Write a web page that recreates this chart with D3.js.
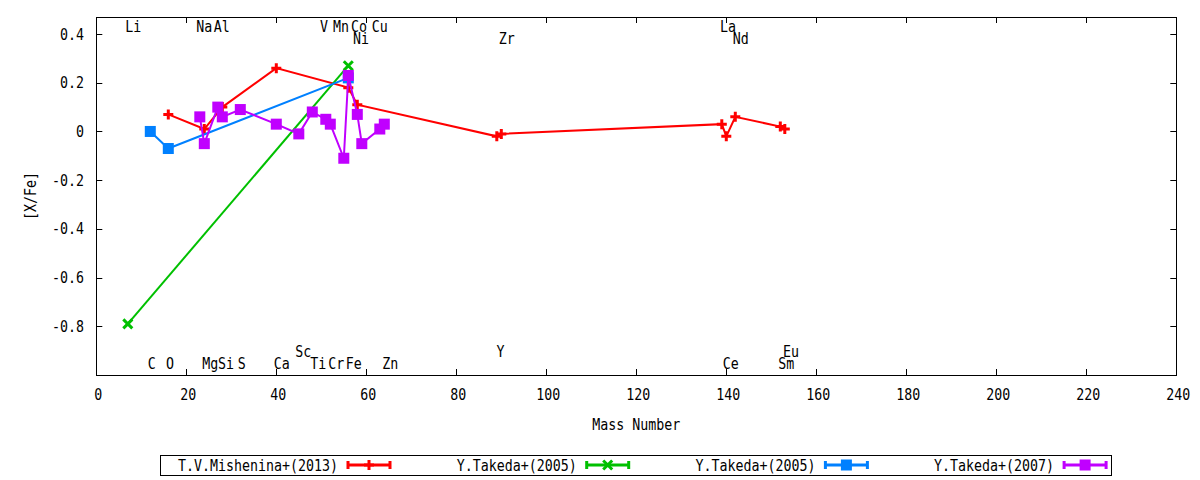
<!DOCTYPE html>
<html>
<head>
<meta charset="utf-8">
<script src="https://cdn.jsdelivr.net/npm/d3@7"></script>
<style>
  body { margin: 0; background: #fff; }
  text { font-family: "DejaVu Sans Mono", monospace; font-size: 16px; fill: #000; }
</style>
</head>
<body>
<div id="chart"></div>
<script>
// [X/Fe] vs mass number
const misheninaMass = [16, 24, 28, 40, 56, 58, 89, 90, 139, 140, 142, 152, 153];
const misheninaXFe  = [0.07, 0.01, 0.10, 0.26, 0.18, 0.11, -0.02, -0.01, 0.03, -0.02, 0.06, 0.02, 0.01];

const takedaLiMass = [7, 56];
const takedaLiXFe  = [-0.79, 0.27];

const takedaCOMass = [12, 16, 56];
const takedaCOXFe  = [0.00, -0.07, 0.22];

const takeda07Mass = [23, 24, 27, 28, 32, 40, 45, 48, 51, 52, 55, 56, 58, 59, 63, 64];
const takeda07XFe  = [0.06, -0.05, 0.10, 0.06, 0.09, 0.03, -0.01, 0.08, 0.05, 0.03, -0.11, 0.23, 0.07, -0.05, 0.01, 0.03];

const seriesNames = ["T.V.Mishenina+(2013)", "Y.Takeda+(2005)", "Y.Takeda+(2005)", "Y.Takeda+(2007)"];

// element labels: name, mass position, [X/Fe] position
const elemNames = ["Li","Na","Al","V","Mn","Co","Cu","La",
                   "Ni","Zr","Nd",
                   "Sc","Y","Eu",
                   "C","O","Mg","Si","S","Ca","Ti","Cr","Fe","Zn","Ce","Sm"];
const elemX = [8.2, 24.0, 27.9, 50.6, 54.4, 58.4, 63.0, 140.4,
               58.8, 91.2, 143.2,
               46.0, 89.8, 154.4,
               12.3, 16.4, 25.3, 28.8, 32.3, 41.2, 49.3, 53.3, 57.2, 65.3, 141.0, 153.3];
const elemY = [0.435, 0.435, 0.435, 0.435, 0.435, 0.435, 0.435, 0.435,
               0.385, 0.385, 0.385,
               -0.9, -0.9, -0.9,
               -0.95, -0.95, -0.95, -0.95, -0.95, -0.95, -0.95, -0.95, -0.95, -0.95, -0.95, -0.95];

const xTicks = d3.range(0, 241, 20);
const yTicks = [-0.8, -0.6, -0.4, -0.2, 0, 0.2, 0.4];

const W = 1200, H = 480;
const margin = { top: 17, right: 24, bottom: 105, left: 96 };
const CHAR = 8;

const svg = d3.select("#chart").append("svg").attr("width", W).attr("height", H);

const x = d3.scaleLinear().domain([0, 240]).range([margin.left + 0.3, W - margin.right + 0.3]);
const y = d3.scaleLinear().domain([-1, 0.47]).range([H - margin.bottom, margin.top]);

// monospaced text squeezed to the narrow glyph pitch of the original
function txt(g, s, px, py, anchor) {
  return g.append("text").attr("x", px).attr("y", py)
    .attr("text-anchor", anchor || "start")
    .attr("textLength", s.length * CHAR).attr("lengthAdjust", "spacingAndGlyphs")
    .text(s);
}

const x0 = x.range()[0], x1 = x.range()[1], y0 = y.range()[0], y1 = y.range()[1];

// ticks (inward, mirrored)
const ticks = svg.append("g").attr("stroke", "#000").attr("stroke-width", 1);
xTicks.forEach(t => {
  const px = Math.round(x(t)) + 0.5;
  ticks.append("line").attr("x1", px).attr("x2", px).attr("y1", y0).attr("y2", y0 - 6);
  ticks.append("line").attr("x1", px).attr("x2", px).attr("y1", y1).attr("y2", y1 + 6);
  txt(svg, String(t), x(t) + 2, 400, "middle");
});
yTicks.forEach(t => {
  const py = Math.round(y(t)) + 0.5;
  ticks.append("line").attr("x1", x0).attr("x2", x0 + 6).attr("y1", py).attr("y2", py);
  ticks.append("line").attr("x1", x1).attr("x2", x1 - 6).attr("y1", py).attr("y2", py);
  txt(svg, d3.format("")(t).replace("−", "-"), 84, y(t) + 5.5, "end");
});

svg.append("rect")
  .attr("x", Math.round(x0) + 0.5).attr("y", y1 + 0.5)
  .attr("width", Math.round(x1) - Math.round(x0)).attr("height", y0 - y1)
  .attr("fill", "none").attr("stroke", "#000").attr("stroke-width", 1);

// axis titles
txt(svg, "Mass Number", (x0 + x1) / 2, 430, "middle");
txt(svg, "[X/Fe]", 0, 0, "middle").attr("transform", `translate(36,${(y0 + y1) / 2}) rotate(-90)`);

// element labels
elemNames.forEach((n, i) => txt(svg, n, x(elemX[i]), y(elemY[i]) + 6, "middle"));

// markers
function plus(g, cx, cy, color) {
  g.append("path").attr("d", `M${cx - 5},${cy}H${cx + 5}M${cx},${cy - 5}V${cy + 5}`)
    .attr("stroke", color).attr("stroke-width", 3).attr("fill", "none");
}
function cross(g, cx, cy, color) {
  g.append("path").attr("d", `M${cx - 4.5},${cy - 4.5}L${cx + 4.5},${cy + 4.5}M${cx - 4.5},${cy + 4.5}L${cx + 4.5},${cy - 4.5}`)
    .attr("stroke", color).attr("stroke-width", 3).attr("fill", "none");
}
function square(g, cx, cy, color) {
  g.append("rect").attr("x", cx - 5.5).attr("y", cy - 5.5).attr("width", 11).attr("height", 11)
    .attr("fill", color);
}

const series = [
  { mass: misheninaMass, val: misheninaXFe, color: "#ff0000", mark: plus },
  { mass: takedaLiMass,  val: takedaLiXFe,  color: "#00c000", mark: cross },
  { mass: takedaCOMass,  val: takedaCOXFe,  color: "#0080ff", mark: square },
  { mass: takeda07Mass,  val: takeda07XFe,  color: "#c000ff", mark: square }
];

const line = d3.line().x(d => x(d[0])).y(d => y(d[1]));

series.forEach(s => {
  const g = svg.append("g");
  const pts = s.mass.map((m, i) => [m, s.val[i]]);
  g.append("path").datum(pts).attr("d", line)
    .attr("fill", "none").attr("stroke", s.color).attr("stroke-width", 2);
  pts.forEach(p => s.mark(g, x(p[0]), y(p[1]), s.color));
});

// legend
const leg = svg.append("g");
leg.append("rect").attr("x", 160.5).attr("y", 455.5).attr("width", 951).attr("height", 20)
  .attr("fill", "none").attr("stroke", "#000").attr("stroke-width", 1);
series.forEach((s, i) => {
  const off = i * 238.7;
  txt(leg, seriesNames[i], 338 + off, 471, "end");
  const lx0 = 347 + off, lx1 = 391 + off, ly = 465;
  leg.append("path")
    .attr("d", `M${lx0},${ly}H${lx1}M${lx0 + 1},${ly - 4}V${ly + 4}M${lx1 - 1},${ly - 4}V${ly + 4}`)
    .attr("stroke", s.color).attr("stroke-width", 3).attr("fill", "none");
  s.mark(leg, (lx0 + lx1) / 2, ly, s.color);
});
</script>
</body>
</html>
